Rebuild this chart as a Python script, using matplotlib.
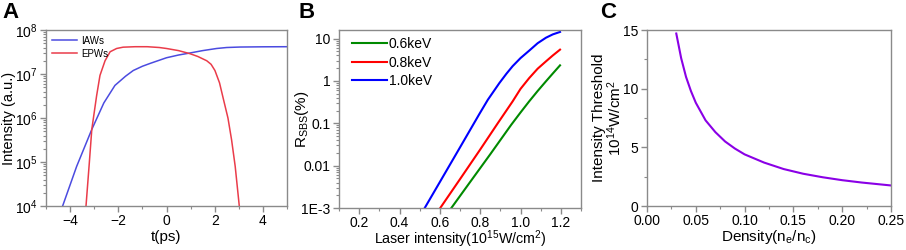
import math
import matplotlib
matplotlib.use("Agg")
import matplotlib.pyplot as plt
import matplotlib.ticker as ticker

plt.rcParams['font.family'] = ['Liberation Sans', 'DejaVu Sans']
plt.rcParams['mathtext.fontset'] = 'custom'
plt.rcParams['mathtext.rm'] = 'Liberation Sans'
plt.rcParams['mathtext.it'] = 'Liberation Sans'
plt.rcParams['mathtext.bf'] = 'Liberation Sans:bold'

# panel A: wave intensity vs time
iaw_t = [-4.31, -3.73, -3.1, -2.6, -2.14, -1.7, -1.38, -1.0, -0.68, 0.0, 0.5, 0.97, 1.5, 2.08, 2.5, 3.05, 4.0, 5.0]
iaw_val = [1e4, 7.9e4, 5.5e5, 2.2e6, 5.5e6, 8.9e6, 1.2e7, 1.5e7, 1.74e7, 2.34e7, 2.7e7, 3.0e7, 3.4e7, 3.8e7,
           4.0e7, 4.1e7, 4.15e7, 4.17e7]
epw_t = [-3.34, -3.2, -3.1, -2.9, -2.76, -2.55, -2.34, -2.07, -1.8, -1.3, -0.8, -0.3, 0.0, 0.5, 0.97, 1.3,
         1.67, 1.85, 2.01, 2.2, 2.36, 2.55, 2.70, 2.85, 3.02]
epw_val = [1e4, 1e5, 5.5e5, 3.2e6, 9.3e6, 2.0e7, 3.2e7, 3.8e7, 4.07e7, 4.17e7, 4.17e7, 4.0e7, 3.8e7, 3.4e7,
           2.9e7, 2.5e7, 2.0e7, 1.66e7, 1.2e7, 6.3e6, 2.7e6, 1.0e6, 3.2e5, 8e4, 1e4]

# panel B: SBS reflectivity vs laser intensity
b_x_06 = [0.657, 0.75, 0.85, 0.953, 1.0, 1.043, 1.085, 1.126, 1.16, 1.196]
b_y_06 = [1e-3, 4.1e-3, 0.0186, 0.091, 0.18, 0.33, 0.58, 0.98, 1.5, 2.34]
b_x_08 = [0.602, 0.7, 0.8, 0.887, 0.961, 1.0, 1.043, 1.085, 1.126, 1.16, 1.196]
b_y_08 = [1e-3, 4.8e-3, 0.024, 0.1, 0.33, 0.65, 1.17, 1.95, 2.9, 4.0, 5.5]
b_x_10 = [0.525, 0.6, 0.7, 0.796, 0.838, 0.895, 0.93, 0.961, 1.0, 1.043, 1.085, 1.126, 1.16, 1.196]
b_y_10 = [1e-3, 4.1e-3, 0.027, 0.166, 0.36, 0.89, 1.48, 2.24, 3.47, 5.2, 7.8, 10.5, 12.6, 14.4]

# panel C: threshold vs density
c_x = [0.03, 0.035, 0.04, 0.045, 0.05, 0.06, 0.07, 0.08, 0.09, 0.10, 0.12, 0.14, 0.16, 0.18, 0.20, 0.22, 0.25]
c_y = [14.7, 12.6, 11.0, 9.8, 8.8, 7.3, 6.3, 5.5, 4.9, 4.4, 3.7, 3.15, 2.75, 2.45, 2.2, 2.0, 1.75]

W, H = 906, 250
fig = plt.figure(figsize=(W / 100, H / 100), dpi=100)


def px_axes(x0, x1, y0, y1):
    return fig.add_axes([x0 / W, 1 - y1 / H, (x1 - x0) / W, (y1 - y0) / H])


def style(ax):
    for s in ax.spines.values():
        s.set_color('#8a8a8a')
        s.set_linewidth(1.0)
    ax.tick_params(which='both', direction='out', color='#8a8a8a', top=False, right=False, labelsize=10, pad=2)
    ax.tick_params(axis='x', pad=1.5)
    ax.tick_params(which='major', length=4, width=1)
    ax.tick_params(which='minor', length=2.5, width=0.8)


def place_labels(ax, xl_y, yl_x):
    ax.xaxis.set_label_coords(0.5, xl_y)
    ax.xaxis.label.set_va('center')
    ax.yaxis.set_label_coords(yl_x, 0.5)
    ax.yaxis.label.set_va('center')


# A
axA = px_axes(46, 287, 30, 206)
axA.plot(iaw_t, iaw_val, color='#4b4be0', lw=1.1, label='IAWs')
axA.plot(epw_t, epw_val, color='#ea3c4a', lw=1.1, label='EPWs')
axA.set_yscale('log')
axA.set_xlim(-5, 5)
axA.set_ylim(1e4, 1e8)
axA.set_xticks([-4, -2, 0, 2, 4])
axA.xaxis.set_minor_locator(ticker.MultipleLocator(1))
axA.set_yticks([1e4, 1e5, 1e6, 1e7, 1e8])
axA.yaxis.set_major_formatter(ticker.FuncFormatter(lambda v, p: '10$^{%d}$' % round(math.log10(v))))
axA.yaxis.set_minor_locator(ticker.LogLocator(base=10, subs=range(2, 10), numticks=20))
axA.yaxis.set_minor_formatter(ticker.NullFormatter())
axA.set_xlabel('t(ps)', fontsize=11)
axA.set_ylabel('Intensity (a.u.)', fontsize=10.5)
place_labels(axA, -0.175, -0.155)
style(axA)
axA.legend(loc='upper left', frameon=False, fontsize=7, handlelength=2.6, borderaxespad=0.2,
           labelspacing=0.3, handletextpad=0.4)

# B
axB = px_axes(339, 581, 30, 208)
axB.plot(b_x_06, b_y_06, color='#008a00', lw=1.5, label='0.6keV')
axB.plot(b_x_08, b_y_08, color='#ff0000', lw=1.5, label='0.8keV')
axB.plot(b_x_10, b_y_10, color='#0000ff', lw=1.5, label='1.0keV')
axB.set_yscale('log')
axB.set_xlim(0.1, 1.3)
axB.set_ylim(1e-3, 16)
axB.set_xticks([0.2, 0.4, 0.6, 0.8, 1.0, 1.2])
axB.xaxis.set_major_formatter(ticker.FormatStrFormatter('%.1f'))
axB.xaxis.set_minor_locator(ticker.MultipleLocator(0.1))
axB.set_yticks([1e-3, 1e-2, 1e-1, 1, 10])
axB.set_yticklabels(['1E-3', '0.01', '0.1', '1', '10'])
axB.yaxis.set_minor_locator(ticker.LogLocator(base=10, subs=range(2, 10), numticks=20))
axB.yaxis.set_minor_formatter(ticker.NullFormatter())
axB.set_xlabel('Laser intensity(10$^{15}$W/cm$^2$)', fontsize=10.3)
axB.set_ylabel('R$_{SBS}$(%)', fontsize=11)
place_labels(axB, -0.175, -0.152)
style(axB)
axB.legend(loc='upper left', bbox_to_anchor=(0.03, 0.99), frameon=False, fontsize=10, handlelength=2.5,
           borderaxespad=0.0, labelspacing=0.3, handletextpad=0.15)

# C
axC = px_axes(647, 891, 30, 206)
axC.plot(c_x, c_y, color='#8a00e6', lw=1.5)
axC.set_xlim(0, 0.25)
axC.set_ylim(0, 15)
axC.set_xticks([0, 0.05, 0.10, 0.15, 0.20, 0.25])
axC.xaxis.set_major_formatter(ticker.FormatStrFormatter('%.2f'))
axC.xaxis.set_minor_locator(ticker.MultipleLocator(0.025))
axC.set_yticks([0, 5, 10, 15])
axC.yaxis.set_minor_locator(ticker.MultipleLocator(2.5))
axC.set_xlabel('Density(n$_e$/n$_c$)', fontsize=11)
axC.set_ylabel('Intensity Threshold\n10$^{14}$W/cm$^2$', fontsize=11, linespacing=0.95)
place_labels(axC, -0.175, -0.16)
style(axC)

for lab, xp in [('A', 2), ('B', 298), ('C', 600)]:
    fig.text(xp / W, 1 - 2 / H, lab, fontsize=16, fontweight='bold', va='top', ha='left')

fig.savefig('out.png', dpi=100)
